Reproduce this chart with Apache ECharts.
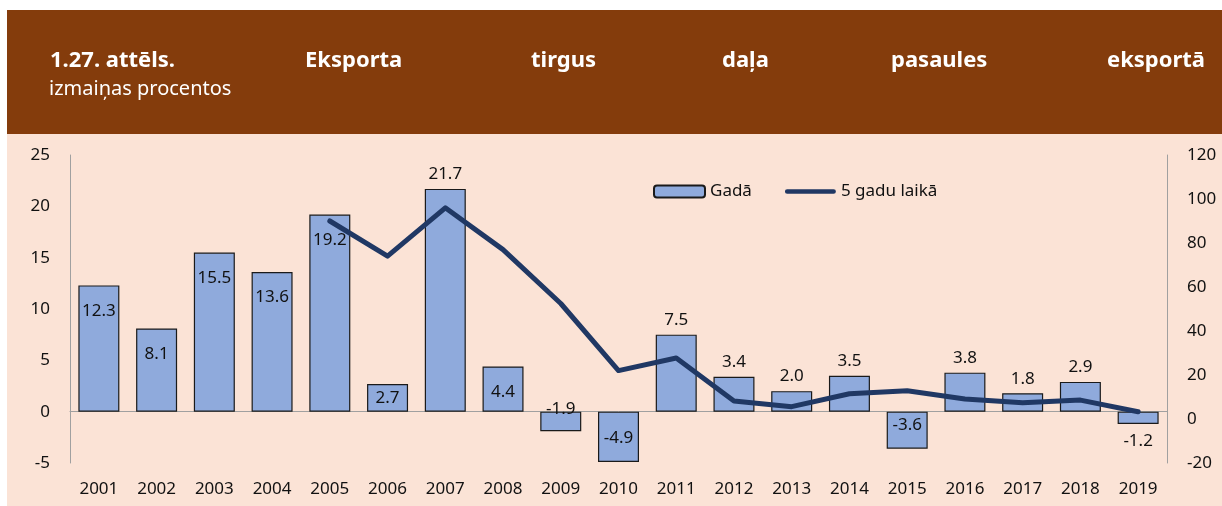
<!DOCTYPE html>
<html>
<head>
<meta charset="utf-8">
<script src="https://cdn.jsdelivr.net/npm/echarts@6/dist/echarts.min.js"></script>
<style>
  html, body { margin: 0; padding: 0; background: #fff; }
  #chart { width: 1222px; height: 506px; }
</style>
</head>
<body>
<div id="chart"></div>
<script>
const years = ['2001', '2002', '2003', '2004', '2005', '2006', '2007', '2008', '2009', '2010',
  '2011', '2012', '2013', '2014', '2015', '2016', '2017', '2018', '2019']
// Gadā (left axis)
const yearly = [12.3, 8.1, 15.5, 13.6, 19.2, 2.7, 21.7, 4.4, -1.9, -4.9,
  7.5, 3.4, 2.0, 3.5, -3.6, 3.8, 1.8, 2.9, -1.2]
// 5 gadu laikā (right axis)
const fiveYear = ['-', '-', '-', '-', 90, 74, 96, 77, 52.5, 22,
  27.7, 8.2, 5.6, 11.5, 12.8, 9.1, 7.4, 8.6, 3.3]
const leftTicks = { min: -5, max: 25, interval: 5 }
const rightTicks = { min: -20, max: 120, interval: 20 }
const titleWords = ['1.27. attēls.', 'Eksporta', 'tirgus', 'daļa', 'pasaules', 'eksportā']
const subtitle = 'izmaiņas procentos'

const font = '"Noto Sans", "Open Sans", sans-serif'
const txt = '#111'
const axisGray = '#a0a0a0'
const lineBlue = '#203864'

// where each bar label sits (like the excel "inside end" / "outside end")
const inside = ['2001', '2002', '2003', '2004', '2005', '2008']
function barLabel(year, v) {
  const base = { show: true, fontSize: 17, color: txt, fontFamily: font, formatter: (p) => p.value.toFixed(1) }
  if (year === '2006') return { ...base, position: 'insideTop', distance: 6 }
  if (year === '2009') return { ...base, position: 'inside', offset: [0, -12] }
  if (year === '2019') return { ...base, position: 'bottom', distance: 9 }
  if (inside.includes(year)) return { ...base, position: 'insideTop', distance: 17 }
  if (v < 0) return { ...base, position: 'insideBottom', distance: 15 }
  return { ...base, position: 'top', distance: 6 }
}

const titleX = [50, 305, 531, 722, 891, 1107]

const chart = echarts.init(document.getElementById('chart'), null, { renderer: 'canvas' })
chart.setOption({
  backgroundColor: '#fff',
  animation: false,
  textStyle: { fontFamily: font },
  graphic: [
    { type: 'rect', z: -10, shape: { x: 7, y: 134, width: 1215, height: 372 }, style: { fill: '#FBE3D6' } },
    { type: 'rect', z: -10, shape: { x: 7, y: 10, width: 1215, height: 124 }, style: { fill: '#843C0C' } },
    ...titleWords.map((w, i) => ({
      type: 'text', x: titleX[i], y: 61,
      style: { text: w, fill: '#fff', font: 'bold 22px ' + font, verticalAlign: 'middle' }
    })),
    {
      type: 'text', x: 49, y: 89,
      style: { text: subtitle, fill: '#fff', font: '20px ' + font, verticalAlign: 'middle' }
    }
  ],
  legend: {
    left: 653,
    top: 183,
    padding: 0,
    itemWidth: 51,
    itemHeight: 12,
    itemGap: 33,
    textStyle: { fontSize: 17, color: txt, fontFamily: font },
    data: [
      'Gadā',
      {
        name: '5 gadu laikā',
        icon: 'path://M2.5,0 L52.5,0 A2.5,2.5 0 0 1 52.5,5 L2.5,5 A2.5,2.5 0 0 1 2.5,0 Z',
        itemStyle: { color: lineBlue, borderWidth: 0 }
      }
    ]
  },
  grid: { left: 70, right: 55, top: 155, bottom: 43 },
  xAxis: [{
    type: 'category',
    data: years,
    position: 'bottom',
    axisLine: { show: false, onZero: false },
    axisTick: { show: false },
    axisLabel: { fontSize: 17, color: txt, margin: 18, fontFamily: font }
  }, {
    type: 'category',
    data: years,
    position: 'top',
    axisLine: { show: true, onZero: true, onZeroAxisIndex: 0, lineStyle: { color: axisGray, width: 1 } },
    axisTick: { show: false },
    axisLabel: { show: false }
  }],
  yAxis: [{
    type: 'value',
    ...leftTicks,
    axisLine: { show: true, lineStyle: { color: axisGray, width: 1 } },
    axisTick: { show: false },
    splitLine: { show: false },
    axisLabel: { fontSize: 17, color: txt, margin: 20, fontFamily: font }
  }, {
    type: 'value',
    ...rightTicks,
    position: 'right',
    axisLine: { show: true, lineStyle: { color: axisGray, width: 1 } },
    axisTick: { show: false },
    splitLine: { show: false },
    axisLabel: { fontSize: 17, color: txt, margin: 20, fontFamily: font }
  }],
  series: [{
    name: 'Gadā',
    type: 'bar',
    xAxisIndex: 0,
    yAxisIndex: 0,
    barWidth: '71%',
    itemStyle: { color: '#8FAADC', borderColor: '#1a1a1a', borderWidth: 1.2 },
    data: yearly.map((v, i) => ({ value: v, label: barLabel(years[i], v) }))
  }, {
    name: '5 gadu laikā',
    type: 'line',
    xAxisIndex: 0,
    yAxisIndex: 1,
    symbol: 'none',
    z: 5,
    lineStyle: { color: lineBlue, width: 5, cap: 'round', join: 'round' },
    itemStyle: { color: lineBlue },
    data: fiveYear
  }]
})
</script>
</body>
</html>
